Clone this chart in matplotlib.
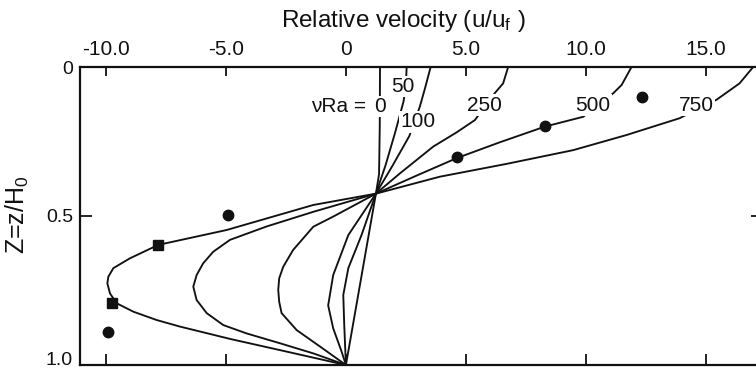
import matplotlib
matplotlib.use("Agg")
import matplotlib.pyplot as plt

plt.rcParams["font.family"] = ["Liberation Sans", "DejaVu Sans"]
plt.rcParams["mathtext.default"] = "regular"

# Velocity profiles u/u_f versus depth Z = z/H0 for several values of vRa
ra_values = [0, 50, 100, 250, 500, 750]

u_ra0 = [1.42, 1.41, 1.38, 1.25, 0.0]
z_ra0 = [0.0, 0.20, 0.36, 0.425, 1.0]

u_ra50 = [2.53, 2.50, 2.40, 2.05, 1.65, 1.25, 0.65, 0.10, -0.11, -0.07, 0.0]
z_ra50 = [0.0, 0.06, 0.116, 0.22, 0.33, 0.425, 0.564, 0.675, 0.765, 0.866, 1.0]

u_ra100 = [3.53, 3.30, 3.08, 2.64, 1.95, 1.25, 0.10, -0.53, -0.74, -0.53, -0.18, 0.0]
z_ra100 = [0.0, 0.07, 0.133, 0.232, 0.33, 0.425, 0.564, 0.698, 0.80, 0.877, 0.955, 1.0]

u_ra250 = [6.76, 6.55, 6.20, 5.375, 4.60, 3.64, 2.25, 1.25, -0.53, -1.36, -2.20,
           -2.61, -2.78, -2.82, -2.78, -2.68, -2.05, -1.08, 0.0]
z_ra250 = [0.0, 0.055, 0.088, 0.178, 0.22, 0.267, 0.357, 0.425, 0.502, 0.536, 0.614,
           0.67, 0.709, 0.748, 0.788, 0.826, 0.883, 0.938, 1.0]

u_ra500 = [11.9, 11.49, 11.14, 9.89, 8.29, 6.40, 4.61, 2.90, 1.25, -1.36, -3.30,
           -4.83, -5.53, -5.95, -6.22, -6.36, -6.22, -5.80, -5.11, -4.14, -2.75,
           -1.36, 0.0]
z_ra500 = [0.0, 0.06, 0.088, 0.167, 0.20, 0.253, 0.306, 0.366, 0.425, 0.486, 0.535,
           0.58, 0.62, 0.659, 0.698, 0.737, 0.782, 0.826, 0.866, 0.894, 0.927,
           0.961, 1.0]

u_ra750 = [16.97, 16.40, 15.44, 13.90, 11.70, 9.47, 6.70, 3.92, 1.25, -1.36, -4.97,
           -7.82, -9.00, -9.69, -9.90, -9.94, -9.83, -9.55, -8.86, -7.89, -6.92,
           -4.80, -2.75, 0.0]
z_ra750 = [0.0, 0.055, 0.11, 0.172, 0.228, 0.279, 0.325, 0.368, 0.425, 0.463, 0.547,
           0.597, 0.642, 0.675, 0.704, 0.726, 0.76, 0.793, 0.821, 0.849, 0.871,
           0.913, 0.95, 1.0]

profiles_u = [u_ra0, u_ra50, u_ra100, u_ra250, u_ra500, u_ra750]
profiles_z = [z_ra0, z_ra50, z_ra100, z_ra250, z_ra500, z_ra750]

# Measured points
circle_u = [-4.9, -9.9, 4.64, 8.29, 12.32]
circle_z = [0.495, 0.888, 0.303, 0.198, 0.10]
square_u = [-7.85, -9.74]
square_z = [0.597, 0.793]

x_ticks = [-10.0, -5.0, 0.0, 5.0, 10.0, 15.0]
x_tick_labels = ["-10.0", "-5.0", "0", "5.0", "10.0", "15.0"]
y_ticks = [0.0, 0.5, 1.0]
y_tick_labels = ["0", "0.5", "1.0"]

# Inline label anchors for each curve (data coordinates)
label_pos = {0: (1.44, 0.133), 50: (2.39, 0.066), 100: (3.01, 0.184),
             250: (5.76, 0.128), 500: (10.3, 0.128), 750: (14.61, 0.128)}

W, H = 756, 374
fig = plt.figure(figsize=(W / 100, H / 100), dpi=100)
ax = fig.add_axes([80 / W, 9 / H, 678 / W, 298 / H])

ink = "#111111"
for u, z in zip(profiles_u, profiles_z):
    ax.plot(u, z, color=ink, lw=1.35, solid_joinstyle="round", zorder=2)

ax.plot(circle_u, circle_z, "o", color=ink, ms=7.5, zorder=4)
ax.plot(square_u, square_z, "s", color=ink, ms=6.5, zorder=4)

for ra in ra_values:
    lx, lz = label_pos[ra]
    ax.text(lx, lz, str(ra), ha="center", va="center", fontsize=15, color=ink,
            zorder=3, bbox=dict(boxstyle="square,pad=0.06", fc="white", ec="none"))
ax.text(-0.3, 0.133, "\u03bdRa =", ha="center", va="center", fontsize=15, color=ink)

ax.set_xlim(-11.08, 17.17)
ax.set_ylim(1.0, 0.0)

ax.set_xticks(x_ticks)
ax.set_xticklabels(x_tick_labels)
ax.set_yticks(y_ticks)
ax.set_yticklabels(y_tick_labels)

ax.tick_params(axis="x", direction="in", top=True, bottom=True, labeltop=True,
               labelbottom=False, length=8, width=1.3, pad=6, labelsize=15,
               colors=ink)
ax.tick_params(axis="y", direction="in", left=True, right=True, length=8.5,
               width=1.3, pad=5, labelsize=14, colors=ink)
for t in ax.xaxis.get_major_ticks():
    t.tick2line.set_markersize(6.5)
for t in ax.yaxis.get_major_ticks():
    t.tick2line.set_markersize(5)
# keep the bottom tick label inside the canvas
ax.get_yticklabels()[-1].set_verticalalignment("baseline")

for s in ax.spines.values():
    s.set_linewidth(1.6)
    s.set_color(ink)

fig.text(403 / W, 1 - 27 / H, "Relative velocity (u/u$_f$ )", ha="center",
         va="baseline", fontsize=17.5, color=ink)
fig.text(17 / W, 1 - 215 / H, "Z=z/H$_0$", rotation=90, ha="center", va="center",
         fontsize=18, color=ink)

fig.savefig("out.png", dpi=100)
